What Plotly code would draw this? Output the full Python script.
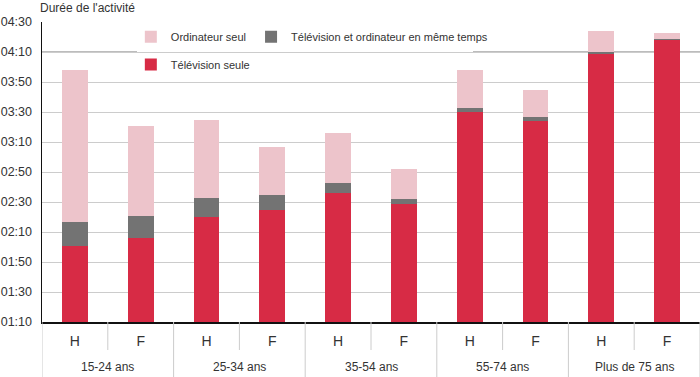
import plotly.graph_objects as go

# ---- data (minutes) ----
groups = ["15-24 ans", "25-34 ans", "35-54 ans", "55-74 ans", "Plus de 75 ans"]
sexes = ["H", "F"]
tv_seule = [121, 126, 140, 145, 156, 149, 210, 204, 249, 258]
tv_et_ordi = [16, 15, 13, 10, 7, 3, 3, 3, 1, 1]
ordi_seul = [101, 60, 52, 32, 33, 20, 25, 18, 14, 4]
y_ticks = [70, 90, 110, 130, 150, 170, 190, 210, 230, 250, 270]

def hhmm(m):
    return f"{m // 60:02d}:{m % 60:02d}"

cats = [f"{g} {s}" for g in groups for s in sexes]
cat_text = [s for g in groups for s in sexes]

FONT = "Liberation Sans, Arial, sans-serif"
TXT = "#333333"
RED = "#d72b45"
GREY = "#737373"
PINK = "#edc4cb"

fig = go.Figure()
fig.add_trace(go.Bar(x=cats, y=tv_seule, name="Télévision seule", marker_color=RED,
                     width=0.39, legend="legend2"))
fig.add_trace(go.Bar(x=cats, y=tv_et_ordi, name="Télévision et ordinateur en même temps",
                     marker_color=GREY, width=0.39, legend="legend", legendrank=2))
fig.add_trace(go.Bar(x=cats, y=ordi_seul, name="Ordinateur seul", marker_color=PINK,
                     width=0.39, legend="legend", legendrank=1))
for t in fig.data:
    t.marker.line.width = 0
    t.hoverinfo = "skip"

LEG_X = 0.135
fig.update_layout(
    width=700, height=377,
    margin=dict(l=42, r=0, t=22, b=55, autoexpand=False),
    barmode="stack",
    plot_bgcolor="white", paper_bgcolor="white",
    font=dict(family=FONT, size=14, color=TXT),
    legend=dict(orientation="h", x=LEG_X, xanchor="left", y=0.999, yanchor="top",
                bgcolor="rgba(255,255,255,0)", font=dict(size=11, color=TXT),
                traceorder="normal", itemclick=False),
    legend2=dict(orientation="h", x=LEG_X, xanchor="left", y=0.907, yanchor="top",
                 bgcolor="rgba(255,255,255,0)", font=dict(size=11, color=TXT),
                 itemclick=False),
    xaxis=dict(type="category", categoryorder="array", categoryarray=cats,
               tickvals=cats, ticktext=cat_text, ticks="", showgrid=False,
               showline=True, linecolor="#111111", linewidth=1.5, automargin=False,
               tickfont=dict(size=14, color=TXT), ticklabelstandoff=6,
               range=[-0.5, 9.5]),
    yaxis=dict(range=[70, 270], tickvals=y_ticks, ticktext=[hhmm(v) for v in y_ticks],
               showgrid=True, gridcolor="#cccccc", gridwidth=1, automargin=False,
               showline=True, linecolor="#111111", linewidth=1.5, zeroline=False,
               ticks="", tickfont=dict(size=12.5, color=TXT), ticklabelstandoff=6),
    showlegend=True,
)

shapes = []
# 04:10 darker gridline interrupted by the legend
shapes.append(dict(type="line", xref="paper", yref="y", x0=0.1444, x1=0.655, y0=250, y1=250,
                   line=dict(color="white", width=3), layer="between"))
shapes.append(dict(type="line", xref="paper", yref="y", x0=0, x1=0.1444, y0=250, y1=250,
                   line=dict(color="#a6a6a6", width=1.5), layer="between"))
shapes.append(dict(type="line", xref="paper", yref="y", x0=0.655, x1=1, y0=250, y1=250,
                   line=dict(color="#a6a6a6", width=1.5), layer="between"))
# separators under the axis
n = len(cats)
for i in range(n + 1):
    xpos = i - 0.5
    is_group = (i % 2 == 0)
    shapes.append(dict(type="line", xref="x", yref="paper", ysizemode="pixel", yanchor=0,
                       x0=xpos, x1=xpos, y0=0, y1=-55 if is_group else -28,
                       line=dict(color="#cccccc", width=1), layer="above"))
fig.update_layout(shapes=shapes)

ann = []
for k, g in enumerate(groups):
    ann.append(dict(x=2 * k + 0.5, xref="x", y=0, yref="paper", yshift=-45, text=g,
                    showarrow=False, yanchor="middle", xanchor="center",
                    font=dict(size=12, color=TXT)))
ann.append(dict(x=0, xref="paper", y=1, yref="paper", xanchor="left", yanchor="middle",
                xshift=-4, yshift=14, text="Durée de l'activité", showarrow=False,
                font=dict(size=12, color=TXT)))
fig.update_layout(annotations=ann)

fig.write_html("out.html", config={"displayModeBar": False, "staticPlot": True},
               post_script="document.body.style.margin='0';")
